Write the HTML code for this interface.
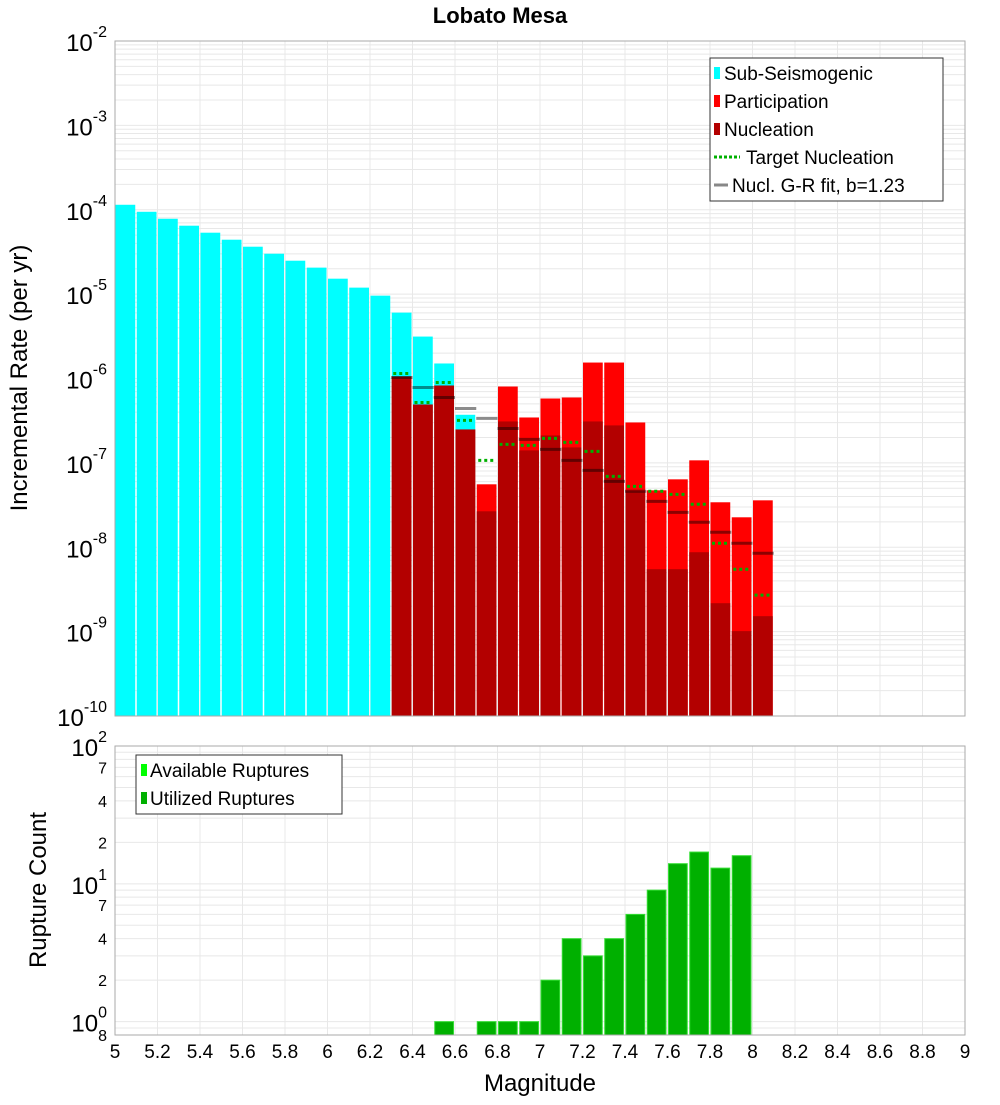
<!DOCTYPE html>
<html><head><meta charset="utf-8"><style>
body{margin:0;background:#fff;width:1000px;height:1100px;overflow:hidden}
svg{font-family:"Liberation Sans","DejaVu Sans",sans-serif}
</style></head><body>
<svg id="chart" width="1000" height="1100" xmlns="http://www.w3.org/2000/svg"></svg>
<script>
// ---- data ----
const cyanMags = [5.0,5.1,5.2,5.3,5.4,5.5,5.6,5.7,5.8,5.9,6.0,6.1,6.2,6.3,6.4,6.5,6.6];
const cyanLog = [-3.941,-4.024,-4.107,-4.189,-4.272,-4.355,-4.438,-4.521,-4.604,-4.686,-4.817,-4.923,-5.018,-5.219,-5.503,-5.822,-6.43];
const faultMags = [6.3,6.4,6.5,6.6,6.7,6.8,6.9,7.0,7.1,7.2,7.3,7.4,7.5,7.6,7.7,7.8,7.9,8.0];
const partLog = [-5.976,-6.308,-6.083,-6.604,-7.254,-6.095,-6.462,-6.237,-6.225,-5.811,-5.811,-6.521,-7.325,-7.195,-6.970,-7.467,-7.645,-7.444];
const nuclLog = [-5.976,-6.308,-6.083,-6.604,-7.574,-6.509,-6.852,-6.675,-6.817,-6.509,-6.556,-7.337,-8.260,-8.260,-8.059,-8.663,-8.994,-8.817];
const grLog = [-5.988,-6.107,-6.225,-6.355,-6.473,-6.592,-6.722,-6.840,-6.970,-7.089,-7.219,-7.337,-7.456,-7.586,-7.704,-7.822,-7.953,-8.071];
const targetLog = [-5.941,-6.284,-6.047,-6.497,-6.970,-6.781,-6.793,-6.710,-6.757,-6.864,-7.160,-7.278,-7.337,-7.373,-7.491,-7.953,-8.260,-8.568];
const countMags = [6.5,6.7,6.8,6.9,7.0,7.1,7.2,7.3,7.4,7.5,7.6,7.7,7.8,7.9];
const counts = [1,1,1,1,2,4,3,4,6,9,14,17,13,16];
const xTicks = [5,5.2,5.4,5.6,5.8,6,6.2,6.4,6.6,6.8,7,7.2,7.4,7.6,7.8,8,8.2,8.4,8.6,8.8,9];
const topExps = [-2,-3,-4,-5,-6,-7,-8,-9,-10];

// ---- scales ----
const X0=115,X1=965,T0=41,T1=716,B0=746,B1=1035;
const xs = m => X0 + (m-5)/4*(X1-X0);
const yTop = l => T0 + (-2 - l)/8*(T1-T0);
const yBot = v => B1 - (Math.log10(v) - Math.log10(0.8))/(2 - Math.log10(0.8))*(B1-B0);
const svg = document.getElementById('chart');
const NS='http://www.w3.org/2000/svg';
function mk(tag, attrs, parent){const e=document.createElementNS(NS,tag);for(const k in attrs)e.setAttribute(k,attrs[k]);(parent||svg).appendChild(e);return e;}
function txt(x,y,s,size,anchor,parent,weight){const t=mk('text',{x:x,y:y,'font-size':size,'text-anchor':anchor||'start',fill:'#000'},parent);if(weight)t.setAttribute('font-weight',weight);t.textContent=s;return t;}

// title
const title = txt(500,23,'Lobato Mesa',22,'middle',null,'bold');



// ---- top plot grid ----
const gTop = mk('g',{});


for(let e=-10;e<-2;e++){for(let k=1;k<10;k++){const y=yTop(e+Math.log10(k));mk('line',{x1:X0,x2:X1,y1:y,y2:y,stroke:'#e8e8e8','stroke-width':1},gTop);}}
for(const t of xTicks){mk('line',{x1:xs(t),x2:xs(t),y1:T0,y2:T1,stroke:'#e8e8e8'},gTop);}
// cyan bars
cyanMags.forEach((m,i)=>{const b=mk('rect',{x:xs(m)+0.5,y:yTop(cyanLog[i]),width:xs(0.1+5)-X0-1.5,height:T1-yTop(cyanLog[i]),fill:'#00ffff'},gTop);

});
faultMags.forEach((m,i)=>{const w=xs(5.1)-X0-1.5;
const p=mk('rect',{x:xs(m)+0.5,y:yTop(partLog[i]),width:w,height:T1-yTop(partLog[i]),fill:'#ff0000'},gTop);


const n=mk('rect',{x:xs(m)+0.5,y:yTop(nuclLog[i]),width:w,height:T1-yTop(nuclLog[i]),fill:'#b30000'},gTop);

});
faultMags.forEach((m,i)=>{const y=yTop(grLog[i]);
const l=mk('line',{x1:xs(m),x2:xs(m+0.1),y1:y,y2:y,stroke:'rgba(0,0,0,0.45)','stroke-width':3},gTop);


const ty=yTop(targetLog[i]);
const d=mk('line',{x1:xs(m)+2,x2:xs(m+0.1)-2,y1:ty,y2:ty,stroke:'#00b000','stroke-width':3,'stroke-dasharray':'3,3'},gTop);

});
mk('rect',{x:X0,y:T0,width:X1-X0,height:T1-T0,fill:'none',stroke:'#aaa'},gTop);
// y tick labels top
topExps.forEach(e=>{const y=yTop(e);const t=mk('text',{x:107,y:y+10,'font-size':24,'text-anchor':'end'},gTop);


t.innerHTML='10<tspan dy="-14" font-size="16">'+e+'</tspan>';});
const yt=txt(0,0,'Incremental Rate (per yr)',24,'middle');
yt.setAttribute('transform','translate(27,378) rotate(-90)');



// legend top
const lg=mk('g',{});


mk('rect',{x:710,y:58,width:233,height:143,fill:'#fff',stroke:'#333'},lg);
const lItems=[['Sub-Seismogenic','#00ffff','sq'],['Participation','#ff0000','sq'],['Nucleation','#b30000','sq'],['Target Nucleation','#00b000','dot'],['Nucl. G-R fit, b=1.23','#888','line']];
lItems.forEach((it,i)=>{const y=73+i*28;const g=mk('g',{},lg);


if(it[2]==='sq'){mk('rect',{x:714,y:y-6,width:6,height:12,fill:it[1]},g);txt(724,y+7,it[0],19,'start',g);}
else if(it[2]==='dot'){mk('line',{x1:714,x2:740,y1:y,y2:y,stroke:it[1],'stroke-width':3,'stroke-dasharray':'3,2'},g);txt(746,y+7,it[0],19,'start',g);}
else{mk('line',{x1:714,x2:728,y1:y,y2:y,stroke:it[1],'stroke-width':3},g);txt(732,y+7,it[0],19,'start',g);}});

// ---- bottom plot ----
const gB=mk('g',{});


for(let e=-1;e<2;e++){for(let k=1;k<10;k++){const v=k*Math.pow(10,e);if(v<0.8)continue;const y=yBot(v);mk('line',{x1:X0,x2:X1,y1:y,y2:y,stroke:'#e8e8e8'},gB);}}
for(const t of xTicks){mk('line',{x1:xs(t),x2:xs(t),y1:B0,y2:B1,stroke:'#e8e8e8'},gB);}
countMags.forEach((m,i)=>{const y=yBot(counts[i]);
const b=mk('rect',{x:xs(m)+1,y:y,width:xs(5.1)-X0-2.5,height:B1-y,fill:'#00b000',stroke:'#33dd33','stroke-width':1},gB);

});
mk('rect',{x:X0,y:B0,width:X1-X0,height:B1-B0,fill:'none',stroke:'#aaa'},gB);
[[100,'10','2'],[10,'10','1'],[1,'10','0']].forEach(a=>{const y=yBot(a[0]);const t=mk('text',{x:107,y:y+10,'font-size':24,'text-anchor':'end'},gB);


t.innerHTML=a[1]+'<tspan dy="-14" font-size="16">'+a[2]+'</tspan>';});
[70,40,20,7,4,2,0.8].forEach(v=>{const t=txt(107,yBot(v)+6,String(v===0.8?8:Math.round(v>=10?v/10:v)),16,'end',gB);

});
const bt=txt(0,0,'Rupture Count',24,'middle');
bt.setAttribute('transform','translate(46,890) rotate(-90)');


// legend bottom
const lb=mk('g',{});


mk('rect',{x:136,y:755,width:206,height:59,fill:'#fff',stroke:'#333'},lb);
[['Available Ruptures','#00ff00'],['Utilized Ruptures','#00b000']].forEach((it,i)=>{const y=770+i*28;const g=mk('g',{},lb);


mk('rect',{x:141,y:y-6,width:6,height:12,fill:it[1]},g);txt(150,y+7,it[0],19,'start',g);});

// x ticks
xTicks.forEach(t=>{const l=txt(xs(t),1058,String(t),19,'middle');

});
const xt=txt(540,1091,'Magnitude',24,'middle');


</script>
</body></html>
